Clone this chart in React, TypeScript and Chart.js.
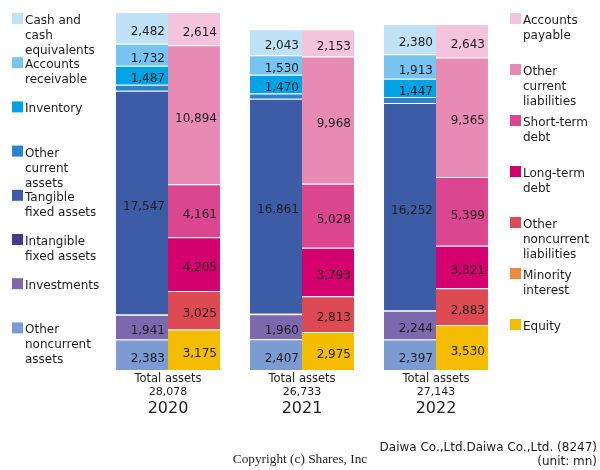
import React, { useEffect, useRef } from "react";
import { Chart, registerables } from "chart.js";

Chart.register(...registerables);

const years = ["2020", "2021", "2022"];
const totalAssets = [28078, 26733, 27143];

// Assets (bottom to top)
const otherNoncurrentAssets = [2383, 2407, 2397];
const investments = [1941, 1960, 2244];
const intangibleFixedAssets = [36, 42, 50];
const tangibleFixedAssets = [17547, 16861, 16252];
const otherCurrentAssets = [470, 420, 460];
const inventory = [1487, 1470, 1447];
const accountsReceivable = [1732, 1530, 1913];
const cashAndEquivalents = [2482, 2043, 2380];

// Liabilities & equity (bottom to top)
const equity = [3175, 2975, 3530];
const minorityInterest = [4, 3, 2];
const otherNoncurrentLiabilities = [3025, 2813, 2883];
const longTermDebt = [4205, 3793, 3321];
const shortTermDebt = [4161, 5028, 5399];
const otherCurrentLiabilities = [10894, 9968, 9365];
const accountsPayable = [2614, 2153, 2643];

const assetSeries = [
  { name: ["Other", "noncurrent", "assets"], data: otherNoncurrentAssets, color: "#7b9bd2" },
  { name: ["Investments"], data: investments, color: "#7b68ad" },
  { name: ["Intangible", "fixed assets"], data: intangibleFixedAssets, color: "#463a8a" },
  { name: ["Tangible", "fixed assets"], data: tangibleFixedAssets, color: "#3c5ca8" },
  { name: ["Other", "current", "assets"], data: otherCurrentAssets, color: "#2c83cc" },
  { name: ["Inventory"], data: inventory, color: "#00a4e4" },
  { name: ["Accounts", "receivable"], data: accountsReceivable, color: "#76c4ef" },
  { name: ["Cash and", "cash", "equivalents"], data: cashAndEquivalents, color: "#c0e2f7" },
];

const liabilitySeries = [
  { name: ["Equity"], data: equity, color: "#f5bd00" },
  { name: ["Minority", "interest"], data: minorityInterest, color: "#ee8a3c" },
  { name: ["Other", "noncurrent", "liabilities"], data: otherNoncurrentLiabilities, color: "#de4a52" },
  { name: ["Long-term", "debt"], data: longTermDebt, color: "#d4006e" },
  { name: ["Short-term", "debt"], data: shortTermDebt, color: "#dc4590" },
  { name: ["Other", "current", "liabilities"], data: otherCurrentLiabilities, color: "#e88bb4" },
  { name: ["Accounts", "payable"], data: accountsPayable, color: "#f4c3dc" },
];

const fmt = (v: number) => v.toLocaleString("en-US");
const FONT = "'DejaVu Sans', sans-serif";

const overlay = {
  id: "overlay",
  afterDatasetsDraw(chart: any) {
    const ctx = chart.ctx as CanvasRenderingContext2D;
    ctx.save();
    // value labels
    ctx.font = `12px ${FONT}`;
    ctx.fillStyle = "#1e1e1e";
    ctx.textAlign = "right";
    ctx.textBaseline = "middle";
    chart.data.datasets.forEach((ds: any, di: number) => {
      const meta = chart.getDatasetMeta(di);
      meta.data.forEach((el: any, i: number) => {
        const p = el.getProps(["x", "y", "base", "width"], true);
        const h = Math.abs(p.base - p.y);
        if (h < 14) return;
        ctx.fillText(fmt(ds.data[i]), p.x + p.width / 2 - 3, (p.y + p.base) / 2 + 4);
      });
    });
    // category labels
    const xs = chart.scales.x;
    ctx.textAlign = "center";
    ctx.textBaseline = "alphabetic";
    years.forEach((yr, i) => {
      const cx = xs.getPixelForValue(i);
      ctx.font = `11.5px ${FONT}`;
      ctx.fillText("Total assets", cx, 382);
      ctx.font = `11px ${FONT}`;
      ctx.fillText(fmt(totalAssets[i]), cx, 395);
      ctx.font = `16px ${FONT}`;
      ctx.fillText(yr, cx, 413);
    });
    // legends
    ctx.textAlign = "left";
    ctx.font = `12px ${FONT}`;
    const leftItems = [...assetSeries].reverse();
    leftItems.forEach((s, k) => {
      const top = 13 + 44.2 * k;
      ctx.fillStyle = s.color;
      ctx.fillRect(12, top, 11, 11);
      ctx.fillStyle = "#1e1e1e";
      s.name.forEach((line, j) => ctx.fillText(line, 25, top + 11 + 15 * j));
    });
    const rightItems = [...liabilitySeries].reverse();
    rightItems.forEach((s, k) => {
      const top = 13 + 51 * k;
      ctx.fillStyle = s.color;
      ctx.fillRect(510, top, 11, 11);
      ctx.fillStyle = "#1e1e1e";
      s.name.forEach((line, j) => ctx.fillText(line, 523, top + 11 + 15 * j));
    });
    // footer
    ctx.textAlign = "right";
    ctx.font = `12px ${FONT}`;
    ctx.fillText("Daiwa Co.,Ltd.Daiwa Co.,Ltd. (8247)", 597, 451);
    ctx.fillText("(unit: mn)", 597, 465);
    ctx.textAlign = "center";
    ctx.font = "13.3px 'Liberation Serif', serif";
    ctx.fillText("Copyright (c) Shares, Inc", 300, 463);
    ctx.restore();
  },
};

export default function App() {
  const ref = useRef<HTMLCanvasElement | null>(null);
  useEffect(() => {
    if (!ref.current) return;
    const mk = (s: any, stack: string) => ({
      label: s.name.join(" "),
      data: s.data,
      backgroundColor: s.color,
      borderColor: "rgba(255,255,255,0.2)",
      borderWidth: { top: 1, left: 0, right: 0, bottom: 0 },
      borderSkipped: false,
      stack,
    });
    const chart = new Chart(ref.current, {
      type: "bar",
      data: {
        labels: years,
        datasets: [
          ...assetSeries.map((s) => mk(s, "assets")),
          ...liabilitySeries.map((s) => mk(s, "liabilities")),
        ],
      },
      options: {
        animation: false,
        responsive: false,
        devicePixelRatio: 1,
        layout: { padding: { left: 101, right: 97, top: 12, bottom: 100 } },
        plugins: { legend: { display: false }, tooltip: { enabled: false } },
        datasets: { bar: { categoryPercentage: 0.776, barPercentage: 1 } },
        scales: {
          x: { display: false, stacked: true },
          y: { display: false, stacked: true, min: 0, max: Math.max(...totalAssets) },
        },
      },
      plugins: [overlay],
    } as any);
    return () => chart.destroy();
  }, []);
  return (
    <div style={{ position: "absolute", left: 0, top: 0, width: 600, height: 470, background: "#fff" }}>
      <canvas ref={ref} width={600} height={470} style={{ display: "block" }} />
    </div>
  );
}
